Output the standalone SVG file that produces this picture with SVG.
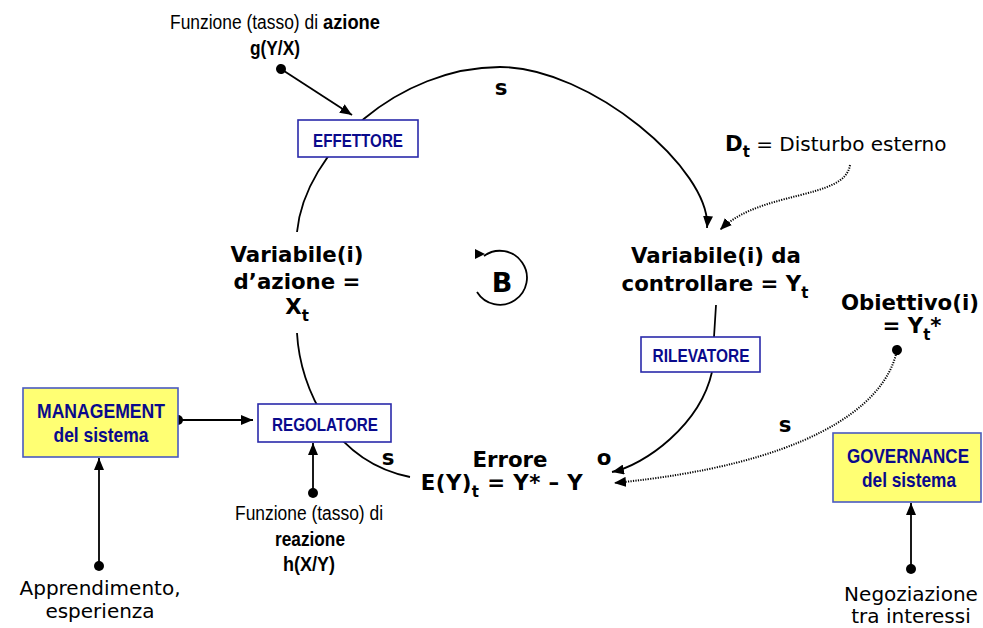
<svg xmlns="http://www.w3.org/2000/svg" width="983" height="628" viewBox="0 0 983 628">
<style>
.v{font-family:"DejaVu Sans",Verdana,sans-serif;font-size:20px;fill:#000}
.vb{font-family:"DejaVu Sans",Verdana,sans-serif;font-weight:bold;font-size:21.3px;fill:#000}
.a{font-family:"Liberation Sans Narrow","Liberation Sans",Arial,sans-serif;font-size:19.5px;fill:#000}
.bx{font-family:"Liberation Sans Narrow","Liberation Sans",Arial,sans-serif;font-weight:bold;fill:#0a0a8c;text-anchor:middle}
.s1{font-size:18.5px}
.s2{font-size:20.5px}
.m{text-anchor:middle}
.wbox{fill:#fff;stroke:#2a2aaa;stroke-width:1.6}
.ybox{fill:#ffff73;stroke:#4a5ac0;stroke-width:1.6}
.ln{fill:none;stroke:#000;stroke-width:1.8}
.dot{fill:none;stroke:#000;stroke-width:2;stroke-dasharray:1.2 1.3}
.sub{font-size:15px}
.big{font-size:27px}
</style>
<defs>
<marker id="arr" markerUnits="userSpaceOnUse" markerWidth="12" markerHeight="10" refX="12" refY="5" orient="auto">
<path d="M0,0 L12,5 L0,10 z" fill="#000"/>
</marker>
<marker id="dt" markerUnits="userSpaceOnUse" markerWidth="12" markerHeight="12" refX="6" refY="6" orient="auto">
<circle cx="6" cy="6" r="5" fill="#000"/>
</marker>
</defs>

<g id="connectors">
<path class="ln" d="M297 232 C305 150 400 67 500 67 C590 67 712 170 707 228" marker-end="url(#arr)"/>
<path class="ln" d="M297 333 C300 390 335 462 410 477"/>
<path class="ln" d="M716 305 L714 337"/>
<path class="ln" d="M712 372 C700 425 645 465 612 472" marker-end="url(#arr)"/>
<path class="dot" d="M850 165 C845 200 760 190 720 230" marker-end="url(#arr)"/>
<path class="dot" d="M897 350 C885 410 800 465 614 483" marker-end="url(#arr)" marker-start="url(#dt)"/>
<path class="ln" d="M281 69 L352 115" marker-start="url(#dt)" marker-end="url(#arr)"/>
<path class="ln" d="M178 420 L253 420" marker-start="url(#dt)" marker-end="url(#arr)"/>
<path class="ln" d="M313 493 L313 443" marker-start="url(#dt)" marker-end="url(#arr)"/>
<path class="ln" d="M99 566 L99 458" marker-start="url(#dt)" marker-end="url(#arr)"/>
<path class="ln" d="M911 569 L911 503" marker-start="url(#dt)" marker-end="url(#arr)"/>
<text class="vb m" x="501" y="95">s</text>
<text class="vb m" x="388" y="465">s</text>
<text class="vb m" x="604" y="465">o</text>
<text class="vb m" x="785" y="432">s</text>
</g>

<g id="effettore">
<rect class="wbox" x="298" y="120" width="120" height="37"/>
<text class="bx s1" x="358" y="147" textLength="90" lengthAdjust="spacingAndGlyphs">EFFETTORE</text>
</g>
<g id="rilevatore">
<rect class="wbox" x="641" y="337" width="119" height="35"/>
<text class="bx s1" x="701" y="362" textLength="97" lengthAdjust="spacingAndGlyphs">RILEVATORE</text>
</g>
<g id="regolatore">
<rect class="wbox" x="258" y="404" width="133" height="38"/>
<text class="bx s1" x="325" y="431" textLength="106" lengthAdjust="spacingAndGlyphs">REGOLATORE</text>
</g>
<g id="management">
<rect class="ybox" x="23" y="388" width="155" height="69"/>
<text class="bx s2" x="101" y="418" textLength="128" lengthAdjust="spacingAndGlyphs">MANAGEMENT</text>
<text class="bx s2" x="101" y="442" textLength="95" lengthAdjust="spacingAndGlyphs">del sistema</text>
</g>
<g id="governance">
<rect class="ybox" x="833" y="433" width="148" height="69"/>
<text class="bx s2" x="908" y="463" textLength="122" lengthAdjust="spacingAndGlyphs">GOVERNANCE</text>
<text class="bx s2" x="909" y="487" textLength="94" lengthAdjust="spacingAndGlyphs">del sistema</text>
</g>

<g id="variabile-azione">
<text class="vb m" x="297" y="262">Variabile(i)</text>
<text class="vb m" x="297" y="289">d’azione =</text>
<text class="vb m" x="297" y="314">X<tspan class="sub" dy="7">t</tspan></text>
</g>
<g id="variabile-controllare">
<text class="vb m" x="716" y="263">Variabile(i) da</text>
<text class="vb m" x="715" y="291">controllare = Y<tspan class="sub" dy="7">t</tspan></text>
</g>
<g id="errore">
<text class="vb m" x="510" y="467">Errore</text>
<text class="vb m" x="502" y="490" letter-spacing="0.4">E(Y)<tspan class="sub" dy="7">t</tspan><tspan dy="-7"> = Y* – Y</tspan></text>
</g>
<g id="obiettivo">
<text class="vb m" x="910" y="310">Obiettivo(i)</text>
<text class="vb m" x="912" y="333">= Y<tspan class="sub" dy="7">t</tspan><tspan dy="-7">*</tspan></text>
</g>
<g id="disturbo">
<text class="v" x="725" y="151"><tspan font-weight="bold" font-size="21.3">D</tspan><tspan font-weight="bold" class="sub" dy="6">t</tspan><tspan dy="-6"> = Disturbo esterno</tspan></text>
</g>
<g id="funzione-azione">
<text class="a" x="170" y="29" textLength="148" lengthAdjust="spacingAndGlyphs">Funzione (tasso) di</text>
<text class="a" x="323" y="29" font-weight="bold" textLength="57" lengthAdjust="spacingAndGlyphs">azione</text>
<text class="a m" x="275" y="55" font-weight="bold" textLength="50" lengthAdjust="spacingAndGlyphs">g(Y/X)</text>
</g>
<g id="funzione-reazione">
<text class="a m" x="309" y="520" textLength="148" lengthAdjust="spacingAndGlyphs">Funzione (tasso) di</text>
<text class="a m" x="310" y="546" font-weight="bold" textLength="70" lengthAdjust="spacingAndGlyphs">reazione</text>
<text class="a m" x="309" y="571" font-weight="bold" textLength="52" lengthAdjust="spacingAndGlyphs">h(X/Y)</text>
</g>
<g id="apprendimento">
<text class="v m" x="100" y="595">Apprendimento,</text>
<text class="v m" x="100" y="618">esperienza</text>
</g>
<g id="negoziazione">
<text class="v m" x="911" y="601">Negoziazione</text>
<text class="v m" x="911" y="623">tra interessi</text>
</g>
<g id="loop-B">
<path class="ln" d="M484 256 A27 27 0 1 1 477 292" stroke-width="1.5"/>
<path d="M475 249 L485 254 L475 259 z" fill="#000"/>
<text class="vb m big" x="502" y="292">B</text>
</g>
</svg>
